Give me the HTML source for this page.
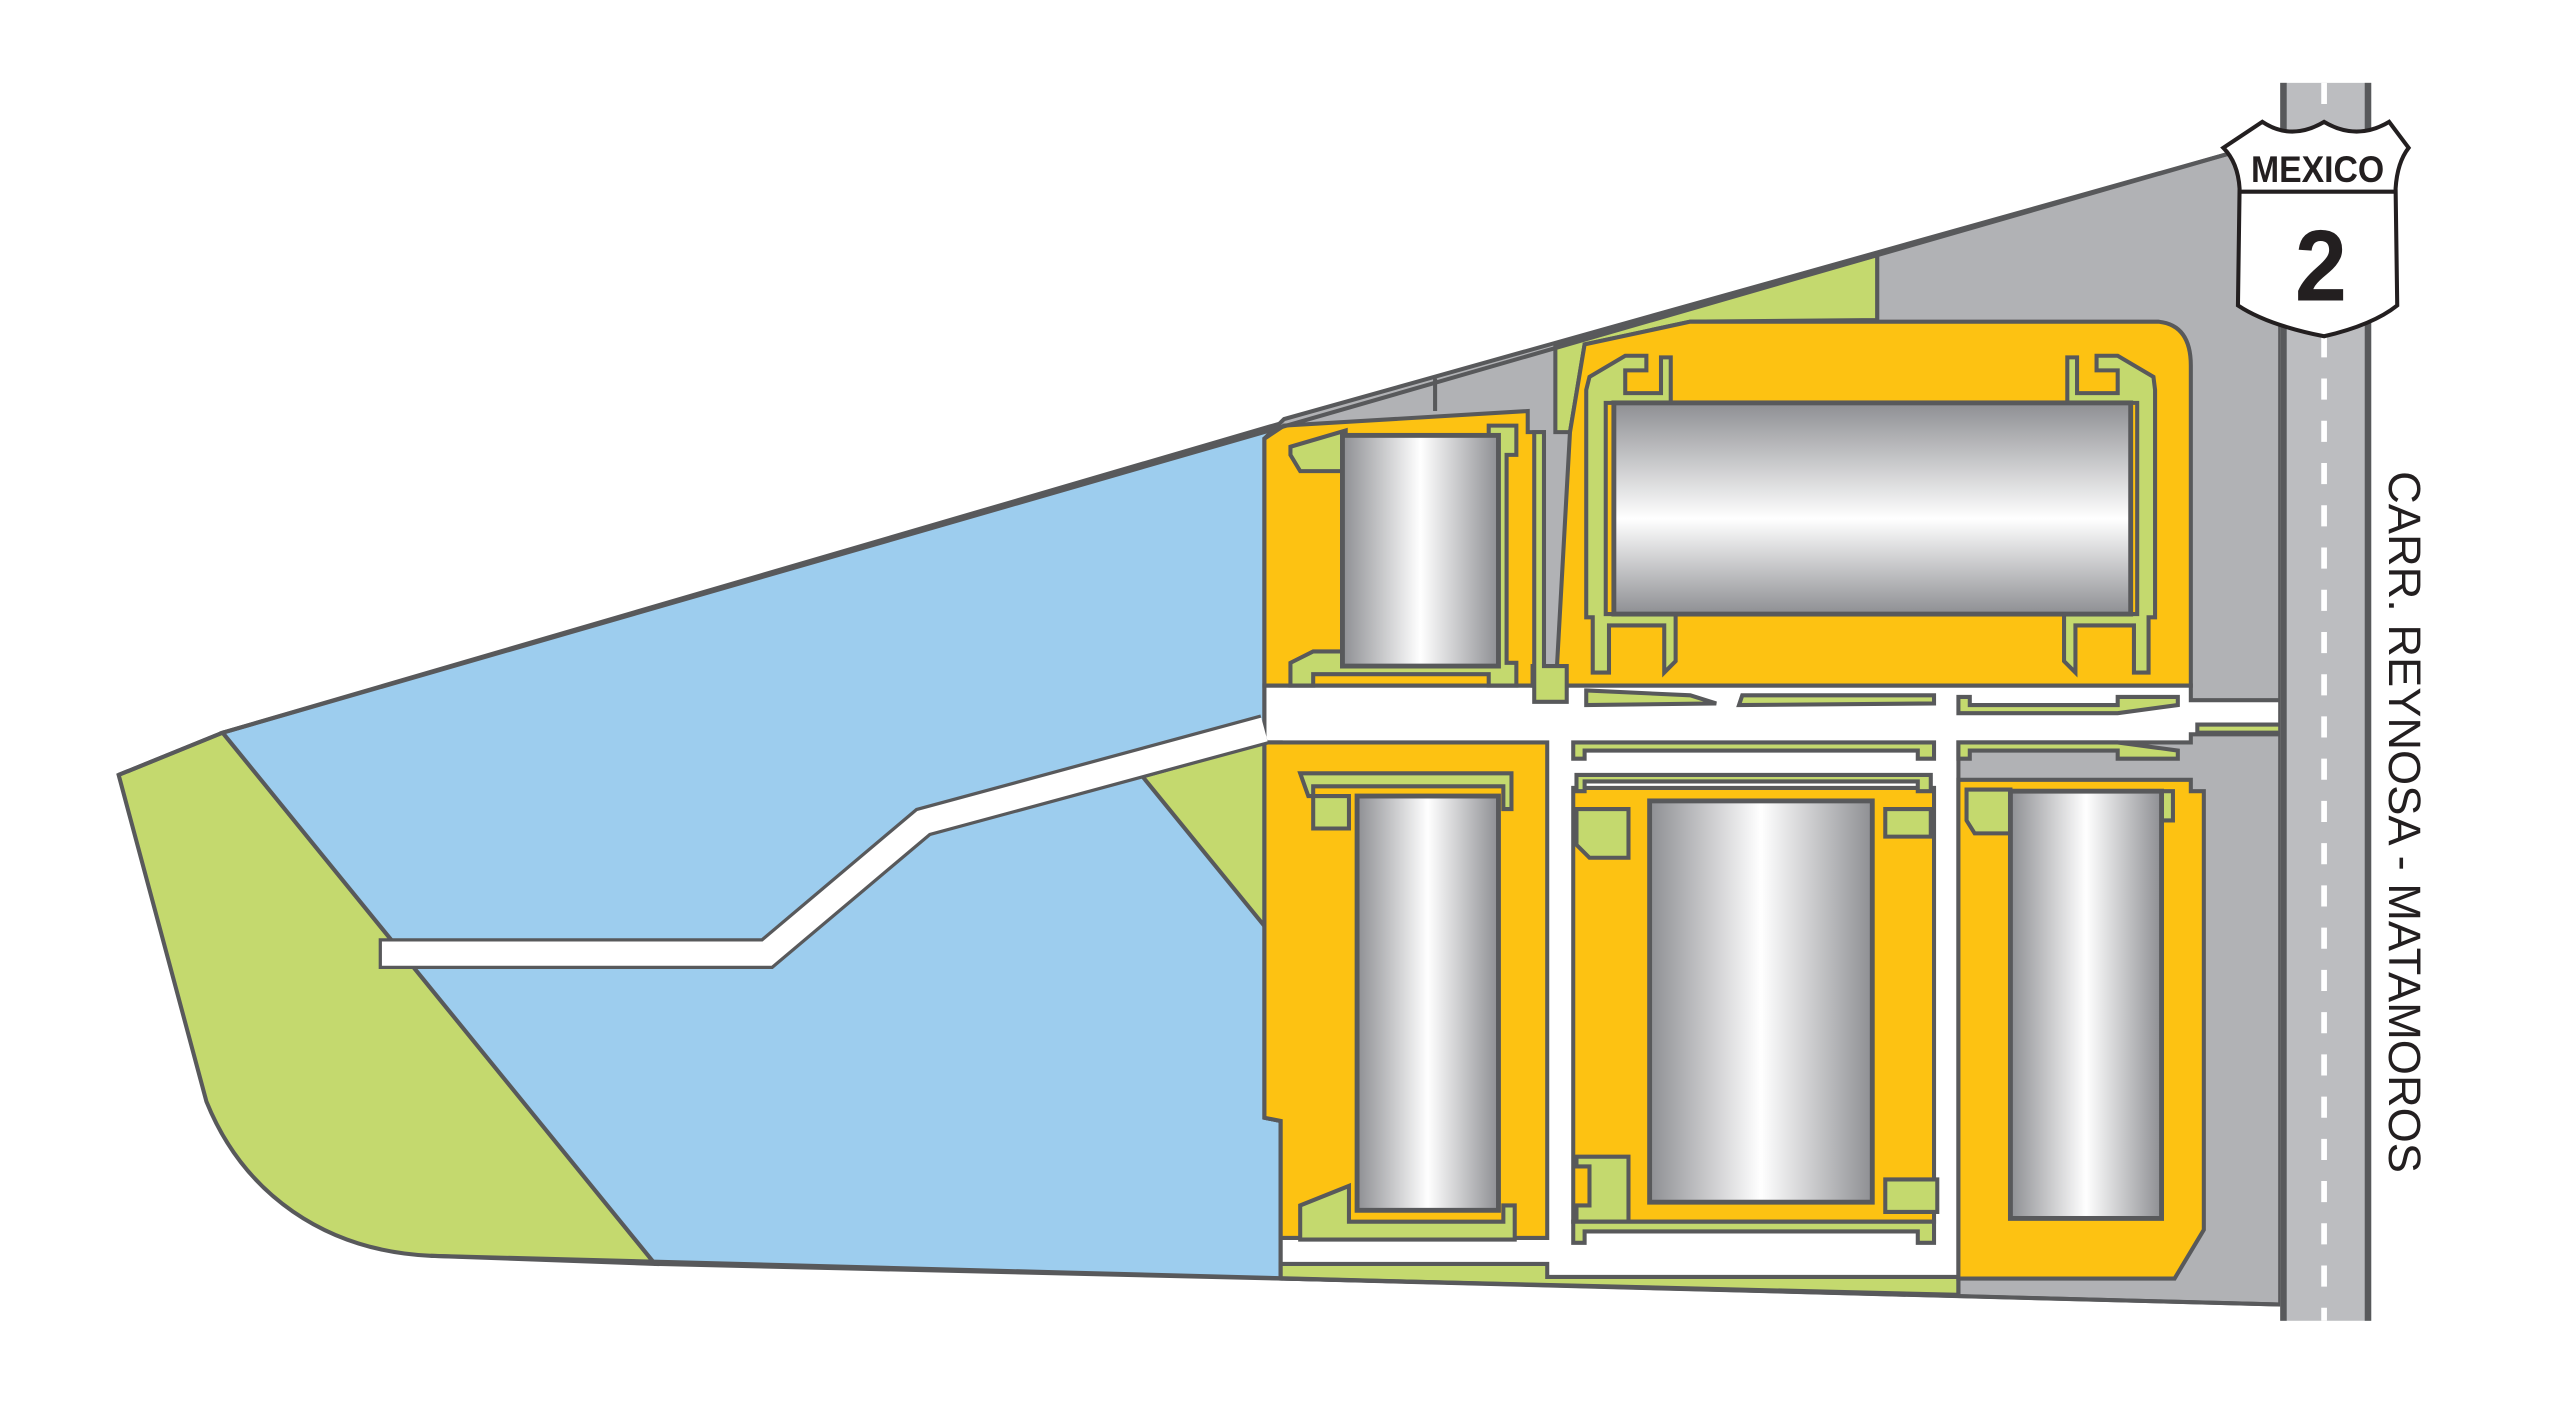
<!DOCTYPE html>
<html><head><meta charset="utf-8"><style>html,body{margin:0;padding:0;background:#fff}svg{display:block}</style></head>
<body>
<svg width="2550" height="1415" viewBox="0 0 1569 871" preserveAspectRatio="none" xmlns="http://www.w3.org/2000/svg">
<defs>
<linearGradient id="gh" x1="0" x2="1" y1="0" y2="0">
<stop offset="0" stop-color="#8e8f93"/><stop offset="0.5" stop-color="#ffffff"/><stop offset="1" stop-color="#8e8f93"/></linearGradient>
<linearGradient id="gv" x1="0" x2="0" y1="0" y2="1">
<stop offset="0" stop-color="#8e8f93"/><stop offset="0.55" stop-color="#ffffff"/><stop offset="1" stop-color="#8e8f93"/></linearGradient>
</defs>
<g stroke="#58595b" stroke-width="2.5" stroke-linejoin="miter">
<path d="M73,477 L137,451 L403,778 L265,773 C200,770 150,735 127,678 Z" fill="#c4d96e"/>
<path d="M137,451 L790,260 L778,270 L778,688 L788,690 L788,787 L403,778 Z" fill="#9dcdee"/>
<path d="M703,478 L778,457 L778,570 Z" fill="#c4d96e"/>
<path d="M790,258 L1370,95 L1403,95 L1403,803 L788,787 L788,690 L778,688 L778,270 Z" fill="#b1b2b5"/>
<line x1="883" y1="233" x2="883" y2="253"/>
<line x1="1155" y1="157" x2="1155" y2="197"/>
<path d="M957,212 L1155,157 L1155,197 L1040,198 L975,212 L966,266 L957,266 Z" fill="#c4d96e"/>
<path d="M778,422 L1348,422 L1348,431 L1403,431 L1403,452 L1348,452 L1348,457 L1205,457 L1205,797 L788,787 L788,457 L778,457 Z" fill="#fff"/>
<path d="M788,778 L952,778 L952,786 L1205,786 L1205,797 L788,787 Z" fill="#c4d96e"/>
<path d="M778,270 L790,262 L940,253 L940,266 L950,266 L950,422 L778,422 Z" fill="#fdc212"/>
<path d="M975,212 L1040,198 L1328,198 Q1348,200 1348,225 L1348,422 L943,422 L943,410 L958,410 L966,266 Z" fill="#fdc212"/>
<path d="M778,457 L952,457 L952,762 L788,762 L788,690 L778,688 Z" fill="#fdc212"/>
<path d="M968,485 L1190,485 L1190,752 L968,752 Z" fill="#fdc212"/>
<path d="M1205,480 L1348,480 L1348,487 L1356,487 L1356,757 L1338,787 L1205,787 Z" fill="#fdc212"/>
<g fill="#c4d96e">
<path d="M794,275 L828,265 L828,270 L916,270 L916,262 L933,262 L933,280 L927,280 L927,408 L933,408 L933,422 L916,422 L916,415 L808,415 L808,422 L794,422 L794,408 L808,401 L826,401 L826,290 L800,290 L794,280 Z"/>
<path d="M944,410 L944,266 L950,266 L950,410 L964,410 L964,432 L944,432 Z"/>
<path d="M978,232 L1000,219 L1013,219 L1013,228 L1000,228 L1000,242 L1022,242 L1022,220 L1028,220 L1028,248 L988,248 L988,378 L1031,378 L1031,407 L1024,414 L1024,385 L990,385 L990,414 L980,414 L980,380 L976,380 L976,240 Z"/>
<path d="M1325,232 L1303,219 L1290,219 L1290,228 L1303,228 L1303,242 L1278,242 L1278,220 L1272,220 L1272,248 L1315,248 L1315,378 L1270,378 L1270,407 L1277,414 L1277,385 L1313,385 L1313,414 L1322,414 L1322,380 L1326,380 L1326,240 Z"/>
<path d="M976,425 L1040,428 L1056,433 L976,434 Z"/>
<path d="M1072,428 L1190,428 L1190,433 L1070,434 Z"/>
<path d="M1205,429 L1212,429 L1212,434 L1303,434 L1303,429 L1340,429 L1340,434 L1303,439 L1205,439 Z"/>
<path d="M968,457 L1190,457 L1190,467 L1180,467 L1180,462 L975,462 L975,467 L968,467 Z"/>
<path d="M1205,457 L1303,457 L1340,462 L1340,467 L1303,467 L1303,462 L1212,462 L1212,467 L1205,467 Z"/>
<path d="M800,476 L930,476 L930,498 L925,498 L925,484 L808,484 L808,510 L830,510 L830,490 L805,490 Z" />
<path d="M970,477 L1188,477 L1188,487 L1180,487 L1180,481 L975,481 L975,487 L970,487 Z"/>
<path d="M970,498 L1002,498 L1002,528 L978,528 L970,520 Z"/>
<path d="M1160,498 L1188,498 L1188,515 L1160,515 Z"/>
<path d="M970,712 L1002,712 L1002,752 L970,752 L970,742 L978,742 L978,718 L970,718 Z"/>
<path d="M1160,726 L1192,726 L1192,746 L1160,746 Z"/>
<path d="M968,752 L1190,752 L1190,765 L1180,765 L1180,758 L975,758 L975,765 L968,765 Z"/>
<path d="M800,742 L830,730 L830,752 L925,752 L925,742 L932,742 L932,763 L800,763 Z"/>
<path d="M1210,486 L1237,486 L1237,513 L1215,513 L1210,505 Z"/>
<path d="M1325,487 L1337,487 L1337,505 L1325,505 Z"/>
<path d="M1352,446 L1403,446 L1403,451 L1352,451 Z"/>
</g>
<rect x="826" y="268" width="96" height="142" fill="url(#gh)" stroke-width="3"/>
<rect x="993" y="248" width="318" height="130" fill="url(#gv)" stroke-width="3"/>
<rect x="835" y="490" width="87" height="255" fill="url(#gh)" stroke-width="3"/>
<rect x="1015" y="493" width="137" height="247" fill="url(#gh)" stroke-width="3"/>
<rect x="1237" y="487" width="93" height="263" fill="url(#gh)" stroke-width="3"/>
<path d="M73,477 L137,451 L1370,95" fill="none"/>
<path d="M265,773 L1403,803" fill="none"/>
<line x1="1205" y1="787" x2="1205" y2="797"/>
<polyline points="233,587 472,587 568,506 778,449" fill="none" stroke="#58595b" stroke-width="19" stroke-linejoin="miter"/>
<polyline points="235,587 472,587 568,506 778,449" fill="none" stroke="#fff" stroke-width="15" stroke-linejoin="miter"/>
<rect x="1403" y="51" width="56" height="762" fill="#bcbdc0" stroke="none"/>
<rect x="1403" y="51" width="4" height="762" fill="#58595b" stroke="none"/>
<rect x="1455" y="51" width="4" height="762" fill="#58595b" stroke="none"/>
<line x1="1430" y1="51" x2="1430" y2="813" stroke="#fff" stroke-width="3.5" stroke-dasharray="13,13"/>
<path d="M1392,75 Q1410,87 1430,75 Q1450,87 1470,75 L1482,91 Q1475,100 1474,116 L1475,188 Q1460,200 1430,207 Q1395,200 1377,188 L1378,116 Q1377,100 1368,91 Z" fill="#fff" stroke="#231f20" stroke-width="2.5"/>
<line x1="1377" y1="118" x2="1475" y2="118" stroke="#231f20" stroke-width="2.5"/>
</g>
<text x="1426" y="112" font-family="Liberation Sans, sans-serif" font-weight="bold" font-size="23" text-anchor="middle" fill="#231f20" textLength="82" lengthAdjust="spacingAndGlyphs">MEXICO</text>
<text x="1428" y="185" font-family="Liberation Sans, sans-serif" font-weight="bold" font-size="62" text-anchor="middle" fill="#231f20" textLength="32" lengthAdjust="spacingAndGlyphs">2</text>
<text transform="translate(1470,290) rotate(90)" font-family="Liberation Sans, sans-serif" font-size="28" fill="#231f20" textLength="432" lengthAdjust="spacingAndGlyphs">CARR. REYNOSA - MATAMOROS</text>
</svg>
</body></html>
